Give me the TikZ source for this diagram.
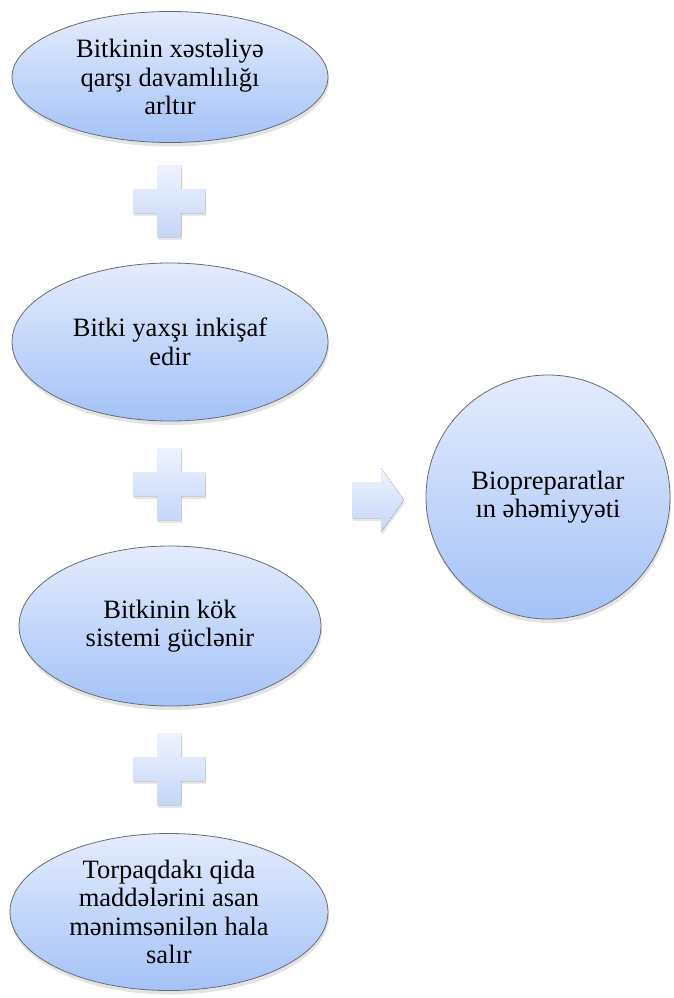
\documentclass[tikz,border=0pt]{standalone}
\usepackage{fontspec}
\setmainfont{Liberation Serif}
\usetikzlibrary{shapes.geometric, shadows, positioning}
\definecolor{bluetop}{RGB}{228,236,253}
\definecolor{bluebot}{RGB}{164,194,247}
\definecolor{plustop}{RGB}{238,243,254}
\definecolor{plusbot}{RGB}{198,214,249}
\definecolor{edgegray}{RGB}{105,108,115}

\begin{document}
\begin{tikzpicture}[x=1pt, y=-1pt, line cap=round,
    oval/.style={ellipse, draw=edgegray, line width=0.8pt, top color=bluetop, bottom color=bluebot,
        minimum width=316pt, inner sep=0pt, align=center,
        font=\fontsize{26.5}{28.5}\selectfont,
        drop shadow={shadow xshift=1pt, shadow yshift=-4pt, opacity=0.22}},
    plusbox/.style={top color=plustop, bottom color=plusbot,
        drop shadow={shadow xshift=1pt, shadow yshift=-3pt, opacity=0.2}}]
    \useasboundingbox (0,0) rectangle (673,998);

    \node[oval, minimum height=131pt] (xestelik) at (170,77) {Bitkinin xəstəliyə\\qarşı davamlılığı\\arltır};
    \node[oval, minimum height=158pt] (inkisaf) at (170,342) {Bitki yaxşı inkişaf\\edir};
    \node[oval, minimum width=302pt, minimum height=160pt] (kok) at (170,626) {Bitkinin kök\\sistemi güclənir};
    \node[oval, minimum width=318pt, minimum height=157pt] (torpaq) at (169,912) {Torpaqdakı qida\\maddələrini asan\\mənimsənilən hala\\salır};

    \node[circle, draw=edgegray, line width=0.8pt, top color=bluetop, bottom color=bluebot,
        minimum size=244pt, inner sep=0pt, align=center, font=\fontsize{26.5}{28.5}\selectfont,
        drop shadow={shadow xshift=1pt, shadow yshift=-4pt, opacity=0.22}]
        (ehemiyyet) at (548,497) {Biopreparatlar\\ın əhəmiyyəti};

    \foreach \py in {201,484,769}
        \fill[plusbox] (169,\py) ++(-12,-36) -- ++(24,0) -- ++(0,24) -- ++(24,0) -- ++(0,24)
            -- ++(-24,0) -- ++(0,24) -- ++(-24,0) -- ++(0,-24) -- ++(-24,0) -- ++(0,-24)
            -- ++(24,0) -- cycle;

    \fill[plusbox] (352,482) -- (381,482) -- (381,468) -- (404,500) -- (381,532)
        -- (381,518) -- (352,518) -- cycle;
\end{tikzpicture}
\end{document}
